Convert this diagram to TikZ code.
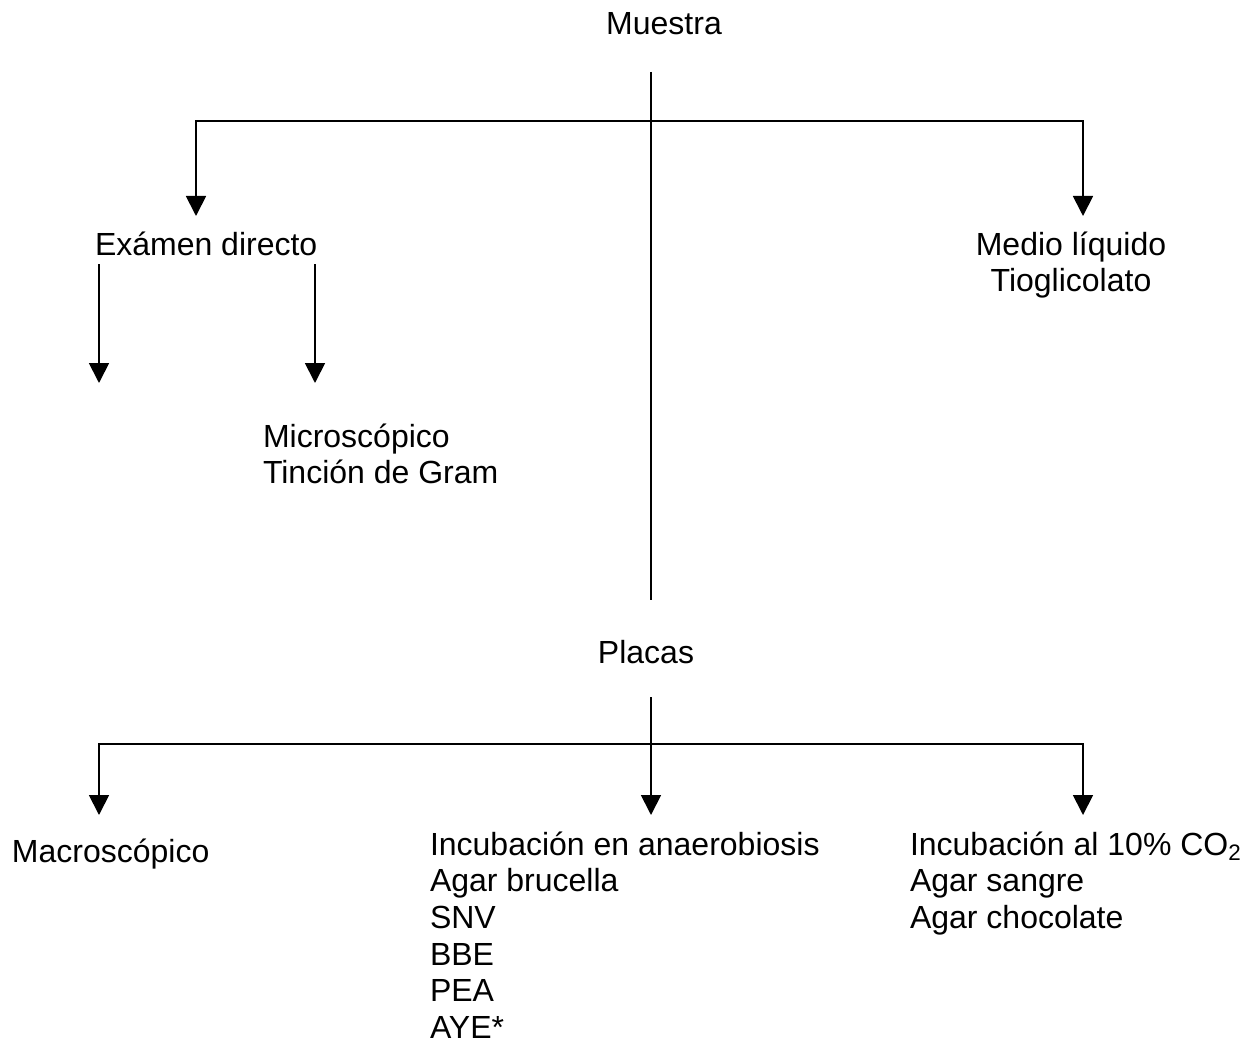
\documentclass[tikz,border=0pt]{standalone}
\usepackage{fontspec}
\setmainfont{Liberation Sans}
\usetikzlibrary{arrows.meta}
\begin{document}
\begin{tikzpicture}[x=0.75pt,y=-0.75pt,
  txt/.style={inner sep=0pt,outer sep=0pt,font=\fontsize{24pt}{27.5pt}\selectfont,align=left,anchor=base west},
  ctxt/.style={txt,align=center,anchor=base},
  line/.style={line width=1.35pt,black},
  arr/.style={line,-{Triangle[width=15pt,length=15pt]}}]
\useasboundingbox (0,0) rectangle (1260,1045);
% texts (anchor base = baseline of the last line)
\node[ctxt] (muestra) at (664,35) {Muestra};
\node[txt] (examen) at (95,255) {Exámen directo};
\node[ctxt] (medio) at (1071,291.7) {Medio líquido\\Tioglicolato};
\node[txt] (micro) at (263,483.7) {Microscópico\\Tinción de Gram};
\node[ctxt] (placas) at (646,663) {Placas};
\node[txt] (macro) at (12,862) {Macroscópico};
\node[txt] (anaer) at (430,1038.5) {Incubación en anaerobiosis\\Agar brucella\\SNV\\BBE\\PEA\\AYE*};
\node[txt] (co2) at (910,928.4) {Incubación al 10\% CO\textsubscript{2}\\Agar sangre\\Agar chocolate};
% coordinates
\coordinate (m0) at (651,72);
\coordinate (m1) at (651,600);
\coordinate (mj) at (651,121);
\coordinate (a1) at (196,216);
\coordinate (a2) at (1083,216);
\coordinate (e1s) at (99,264);
\coordinate (e1t) at (99,383);
\coordinate (e2s) at (315,264);
\coordinate (e2t) at (315,383);
\coordinate (p0) at (651,697);
\coordinate (pj) at (651,744);
\coordinate (t1) at (99,815);
\coordinate (t2) at (651,815);
\coordinate (t3) at (1083,815);
% connectors
\draw[line] (m0) -- (m1);
\draw[arr] (mj) -| (a1);
\draw[arr] (mj) -| (a2);
\draw[arr] (e1s) -- (e1t);
\draw[arr] (e2s) -- (e2t);
\draw[arr] (p0) -- (t2);
\draw[arr] (pj) -| (t1);
\draw[arr] (pj) -| (t3);
\end{tikzpicture}
\end{document}
